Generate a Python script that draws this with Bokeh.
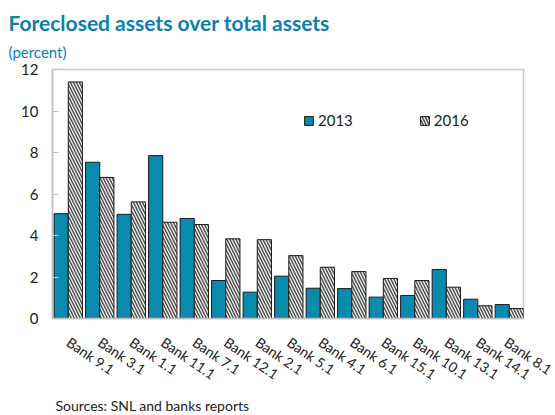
from bokeh.plotting import figure
from bokeh.models import ColumnDataSource, Legend, LegendItem, FixedTicker, Range1d, Title
from bokeh.embed import file_html
from bokeh.resources import INLINE

banks = ["Bank 9.1", "Bank 3.1", "Bank 1.1", "Bank 11.1", "Bank 7.1", "Bank 12.1", "Bank 2.1",
         "Bank 5.1", "Bank 4.1", "Bank 6.1", "Bank 15.1", "Bank 10.1", "Bank 13.1", "Bank 14.1", "Bank 8.1"]
v2013 = [5.05, 7.53, 5.02, 7.85, 4.82, 1.83, 1.27, 2.04, 1.46, 1.44, 1.03, 1.11, 2.36, 0.93, 0.67]
v2016 = [11.4, 6.8, 5.62, 4.64, 4.53, 3.84, 3.80, 3.03, 2.47, 2.26, 1.93, 1.83, 1.51, 0.61, 0.48]
y_ticks = [0, 2, 4, 6, 8, 10, 12]

FONT = "Lato"
TEAL = "#0a8aac"
TITLE_COL = "#0b80b0"

xs = list(range(len(banks)))
src = ColumnDataSource(dict(x13=[i - 0.225 for i in xs], x16=[i + 0.225 for i in xs],
                            v13=v2013, v16=v2016))

p = figure(width=555, height=415, output_backend="svg", toolbar_location=None,
           x_range=Range1d(-0.5, len(banks) - 0.55), y_range=Range1d(0, 12),
           min_border_left=52, min_border_right=32, min_border_top=69, min_border_bottom=0)

p.title.text = "Foreclosed assets over total assets"
p.title.text_font = FONT
p.title.text_font_size = "21px"
p.title.text_font_style = "bold"
p.title.text_color = TITLE_COL
p.title.align = "left"
p.title.offset = -44
p.title.standoff = 4

p.add_layout(Title(text="(percent)", text_font=FONT,
                   text_font_size="15px", text_font_style="normal", text_color=TITLE_COL,
                   align="left", offset=-44, standoff=13, vertical_align="top",
                   text_line_height=1.3), "above")

r13 = p.vbar(x="x13", top="v13", width=0.45, source=src, fill_color=TEAL,
             line_color="#1a1a1a", line_width=1)
r16 = p.vbar(x="x16", top="v16", width=0.45, source=src, fill_color="white",
             line_color="#1a1a1a", line_width=1, hatch_pattern="left_diagonal_line",
             hatch_color="#555555", hatch_scale=6, hatch_weight=1.6)

p.xgrid.visible = False
p.ygrid.visible = False
p.outline_line_color = "#c8c8c8"
p.outline_line_width = 1.5

p.yaxis.ticker = FixedTicker(ticks=y_ticks)
p.yaxis.axis_line_color = "#c0c0c0"
p.yaxis.axis_line_width = 1.5
p.yaxis.major_tick_in = 6
p.yaxis.major_tick_out = 0
p.yaxis.major_tick_line_color = "#c0c0c0"
p.yaxis.minor_tick_line_color = None
p.yaxis.major_label_text_font = FONT
p.yaxis.major_label_text_font_size = "15px"
p.yaxis.major_label_text_color = "#222222"
p.yaxis.major_label_standoff = 14

p.xaxis.ticker = FixedTicker(ticks=xs)
p.xaxis.major_label_overrides = {i: b for i, b in enumerate(banks)}
p.xaxis.major_label_orientation = -0.6
p.xaxis.axis_line_color = "#c0c0c0"
p.xaxis.axis_line_width = 1.5
p.xaxis.major_tick_line_color = None
p.xaxis.minor_tick_line_color = None
p.xaxis.major_label_text_font = FONT
p.xaxis.major_label_text_font_size = "14px"
p.xaxis.major_label_text_color = "#222222"
p.xaxis.major_label_standoff = 16

p.add_layout(Title(text="Sources: SNL and banks reports", text_font=FONT,
                   text_font_size="14px", text_font_style="normal", text_color="#222222",
                   align="left", offset=3, standoff=4), "below")

legend = Legend(items=[LegendItem(label="2013", renderers=[r13]),
                       LegendItem(label="2016", renderers=[r16])],
                orientation="horizontal", location=(251, 189), spacing=66,
                glyph_width=11, glyph_height=11, padding=0, margin=0,
                label_text_font=FONT, label_text_font_size="15px",
                label_text_color="#222222", label_standoff=4,
                background_fill_alpha=0, border_line_color=None)
p.add_layout(legend, "center")

open("out.html", "w").write(file_html(p, INLINE))
